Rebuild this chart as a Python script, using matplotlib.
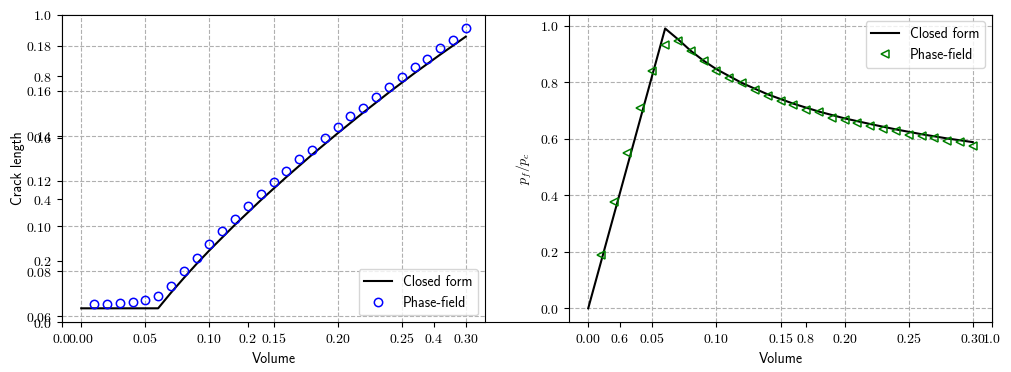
import numpy as np
import matplotlib
matplotlib.use("Agg")
import matplotlib.pyplot as plt
from matplotlib.ticker import FuncFormatter

plt.rcParams['mathtext.fontset'] = 'cm'
plt.rcParams['font.size'] = 10

# closed form curves
vol_closed = [0.0, 0.06, 0.07, 0.08, 0.09, 0.10, 0.12, 0.14, 0.16, 0.18,
              0.20, 0.22, 0.24, 0.26, 0.28, 0.30]
crack_closed = [0.0635, 0.0635, 0.0704, 0.0769, 0.0832, 0.0892, 0.1006, 0.1114,
                0.1217, 0.1316, 0.1411, 0.1503, 0.1592, 0.1678, 0.1760, 0.1840]
vol_press = [0.0, 0.06, 0.07, 0.08, 0.09, 0.10, 0.12, 0.14, 0.16, 0.18,
             0.20, 0.22, 0.24, 0.26, 0.28, 0.30]
press_closed = [0.0, 0.99, 0.952, 0.911, 0.876, 0.846, 0.797, 0.757, 0.724,
                0.696, 0.672, 0.652, 0.633, 0.616, 0.601, 0.588]

# phase-field results
vol_pf = [0.01, 0.02, 0.03, 0.04, 0.05, 0.06, 0.07, 0.08, 0.09, 0.10,
          0.11, 0.12, 0.13, 0.14, 0.15, 0.16, 0.17, 0.18, 0.19, 0.20,
          0.21, 0.22, 0.23, 0.24, 0.25, 0.26, 0.27, 0.28, 0.29, 0.30]
crack_pf = [0.0653, 0.0653, 0.0658, 0.0662, 0.0671, 0.0690, 0.0733, 0.0800, 0.0860, 0.0918,
            0.0977, 0.1033, 0.1088, 0.1140, 0.1193, 0.1242, 0.1295, 0.1339, 0.1392, 0.1437,
            0.1486, 0.1525, 0.1573, 0.1617, 0.1663, 0.1707, 0.1741, 0.1791, 0.1826, 0.1876]
press_pf = [0.187, 0.375, 0.550, 0.710, 0.841, 0.933, 0.947, 0.910, 0.874, 0.841,
            0.816, 0.796, 0.771, 0.751, 0.734, 0.721, 0.703, 0.693, 0.675, 0.668,
            0.654, 0.644, 0.634, 0.627, 0.614, 0.609, 0.601, 0.591, 0.587, 0.575]

sans = 'cmss10'


def texfmt(digits):
    return FuncFormatter(lambda v, p: r'$%.*f$' % (digits, v))


fig = plt.figure(figsize=(10.11, 3.72), dpi=100)
W, H = 1011.0, 372.0
bottom, top = 322.3, 14.5

# empty axes left behind by the figure (0..1 ticks)
bg = fig.add_axes([62 / W, 1 - bottom / H, 930 / W, (bottom - top) / H])
bg.xaxis.set_major_formatter(texfmt(1))
bg.yaxis.set_major_formatter(texfmt(1))

ax1 = fig.add_axes([62 / W, 1 - bottom / H, 423 / W, (bottom - top) / H])
ax2 = fig.add_axes([569 / W, 1 - bottom / H, 423 / W, (bottom - top) / H])

ax1.plot(vol_closed, crack_closed, 'k-', lw=1.5, label='Closed form')
ax1.plot(vol_pf, crack_pf, 'o', mfc='none', mec='b', ms=6, mew=1.1, label='Phase-field')
ax1.set_xlabel('Volume', family=sans)
ax1.set_ylabel('Crack length', family=sans, labelpad=1)
ax1.grid(True, ls='--')
ax1.xaxis.set_major_formatter(texfmt(2))
ax1.yaxis.set_major_formatter(texfmt(2))
ax1.legend(loc='lower right', prop={'family': sans})

ax2.plot(vol_press, press_closed, 'k-', lw=1.5, label='Closed form')
ax2.plot(vol_pf, press_pf, '<', mfc='none', mec='g', ms=6, mew=1.1, label='Phase-field')
ax2.set_xlabel('Volume', family=sans)
ax2.set_ylabel(r'$p_f/p_c$')
ax2.grid(True, ls='--')
ax2.xaxis.set_major_formatter(texfmt(2))
ax2.yaxis.set_major_formatter(texfmt(1))
ax2.legend(loc='upper right', prop={'family': sans})

fig.savefig('out.png', dpi=100)
